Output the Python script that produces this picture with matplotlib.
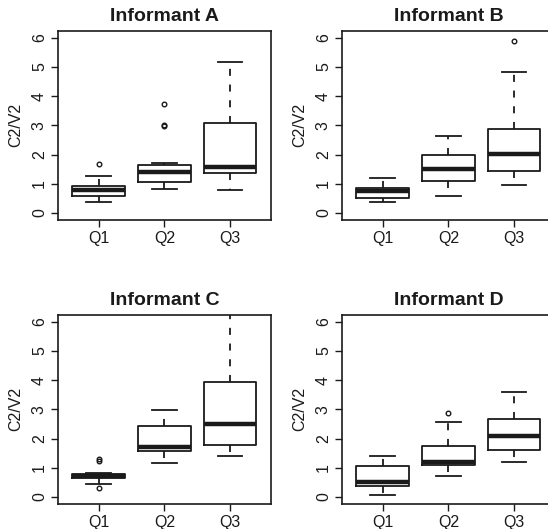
import matplotlib
matplotlib.use("Agg")
import matplotlib.pyplot as plt

plt.rcParams['font.family'] = ['Liberation Sans', 'DejaVu Sans']

categories = ["Q1", "Q2", "Q3"]
panel_titles = ["Informant A", "Informant B", "Informant C", "Informant D"]

# per panel, per category: lower whisker, Q1, median, Q3, upper whisker, outliers
A_whislo = [0.39, 0.82, 0.80]
A_q1 = [0.57, 1.05, 1.36]
A_med = [0.78, 1.41, 1.59]
A_q3 = [0.91, 1.64, 3.07]
A_whishi = [1.27, 1.70, 5.18]
A_fliers = [[1.66], [2.97, 3.01, 3.73], []]

B_whislo = [0.39, 0.57, 0.95]
B_q1 = [0.52, 1.09, 1.45]
B_med = [0.74, 1.50, 2.02]
B_q3 = [0.84, 1.98, 2.86]
B_whishi = [1.20, 2.64, 4.82]
B_fliers = [[], [], [5.89]]

C_whislo = [0.43, 1.16, 1.41]
C_q1 = [0.64, 1.57, 1.78]
C_med = [0.71, 1.71, 2.49]
C_q3 = [0.80, 2.43, 3.92]
C_whishi = [0.82, 2.97, 6.60]
C_fliers = [[0.32, 1.23, 1.30], [], []]

D_whislo = [0.07, 0.71, 1.21]
D_q1 = [0.39, 1.10, 1.60]
D_med = [0.52, 1.19, 2.10]
D_q3 = [1.05, 1.74, 2.68]
D_whishi = [1.39, 2.56, 3.60]
D_fliers = [[], [2.87], []]

panels = [
    (A_whislo, A_q1, A_med, A_q3, A_whishi, A_fliers),
    (B_whislo, B_q1, B_med, B_q3, B_whishi, B_fliers),
    (C_whislo, C_q1, C_med, C_q3, C_whishi, C_fliers),
    (D_whislo, D_q1, D_med, D_q3, D_whishi, D_fliers),
]

W, H = 548, 529
fig = plt.figure(figsize=(W / 100, H / 100), dpi=100)

ax_w = 212.7 / W
ax_h = 189.3 / H
lefts = [58 / W, 342 / W, 58 / W, 342 / W]
bottoms = [(H - 220) / H, (H - 220) / H, (H - 504) / H, (H - 504) / H]

for i, (wl, q1, med, q3, wh, fl) in enumerate(panels):
    ax = fig.add_axes([lefts[i], bottoms[i], ax_w, ax_h])
    stats = []
    for j, c in enumerate(categories):
        stats.append(dict(label=c, whislo=wl[j], q1=q1[j], med=med[j],
                          q3=q3[j], whishi=wh[j], fliers=fl[j]))
    ax.bxp(stats, positions=[1, 2, 3], widths=0.8, showfliers=True,
           boxprops=dict(color='#1a1a1a', linewidth=1.3),
           medianprops=dict(color='#1a1a1a', linewidth=3.2, solid_capstyle='butt'),
           whiskerprops=dict(color='#1a1a1a', linewidth=1.3, linestyle=(0, (3.9, 4.8))),
           capprops=dict(color='#1a1a1a', linewidth=1.3),
           flierprops=dict(marker='o', markersize=3.3, markerfacecolor='none',
                           markeredgecolor='#1a1a1a', markeredgewidth=1.0, linestyle='none'),
           capwidths=0.38)
    ax.set_xlim(0.38, 3.62)
    ax.set_ylim(-0.24, 6.24)
    ax.set_yticks(range(0, 7))
    ax.set_yticklabels([str(v) for v in range(0, 7)], rotation=90, va='center')
    ax.set_xticks([1, 2, 3])
    ax.set_xticklabels(categories)
    ax.tick_params(axis='both', labelsize=11.5, length=5, width=1.0, color='#1a1a1a',
                   labelcolor='#1a1a1a')
    ax.tick_params(axis='y', pad=3)
    ax.tick_params(axis='x', pad=3)
    for s in ax.spines.values():
        s.set_linewidth(1.2)
        s.set_color('#1a1a1a')
    ax.set_ylabel("C2/V2", fontsize=11.5, color='#1a1a1a', labelpad=6)
    ax.set_title(panel_titles[i], fontsize=14, fontweight='bold', pad=7, color='#1a1a1a')

fig.savefig("out.png", dpi=100)
